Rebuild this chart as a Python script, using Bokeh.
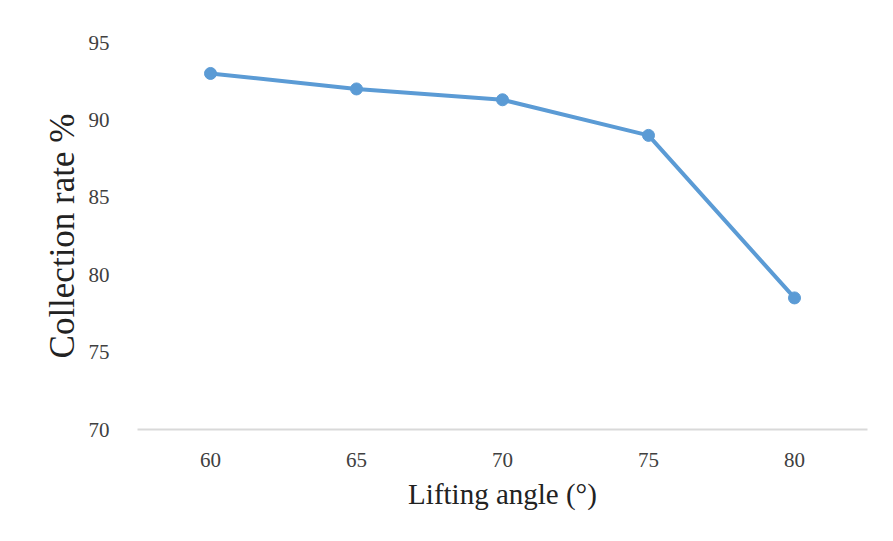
from bokeh.plotting import figure
from bokeh.models import Range1d, FixedTicker
from bokeh.embed import file_html
from bokeh.resources import INLINE

angles = ["60", "65", "70", "75", "80"]
collection_rate = [93.0, 92.0, 91.3, 89.0, 78.5]
y_ticks = [70, 75, 80, 85, 90, 95]

FONT = "Liberation Serif"
BLUE = "#5b9bd5"

p = figure(width=893, height=541, x_range=angles, y_range=Range1d(70, 95),
           output_backend="svg", toolbar_location=None,
           min_border_left=137, min_border_right=26, min_border_top=42, min_border_bottom=112)
p.outline_line_color = None
p.background_fill_color = "white"
p.border_fill_color = "white"
p.xgrid.grid_line_color = None
p.ygrid.grid_line_color = None

p.line(angles, collection_rate, line_color=BLUE, line_width=4)
p.scatter(angles, collection_rate, size=12, fill_color=BLUE, line_color=BLUE)

p.yaxis.ticker = FixedTicker(ticks=y_ticks)
p.yaxis.axis_line_color = None
p.yaxis.major_tick_line_color = None
p.yaxis.minor_tick_line_color = None
p.yaxis.major_label_standoff = 22
p.yaxis.axis_label = "Collection rate %"
p.yaxis.axis_label_text_font = FONT
p.yaxis.axis_label_text_font_style = "normal"
p.yaxis.axis_label_text_font_size = "35px"
p.yaxis.axis_label_text_color = "#222222"
p.yaxis.axis_label_standoff = 4

p.xaxis.axis_line_color = "#d9d9d9"
p.xaxis.axis_line_width = 2
p.xaxis.major_tick_line_color = None
p.xaxis.minor_tick_line_color = None
p.xaxis.major_label_standoff = 17
p.xaxis.axis_label = "Lifting angle (°)"
p.xaxis.axis_label_text_font = FONT
p.xaxis.axis_label_text_font_style = "normal"
p.xaxis.axis_label_text_font_size = "29px"
p.xaxis.axis_label_text_color = "#222222"
p.xaxis.axis_label_standoff = 8

for ax in (p.xaxis, p.yaxis):
    ax.major_label_text_font = FONT
    ax.major_label_text_font_size = "21px"
    ax.major_label_text_color = "#404040"

open("out.html", "w").write(file_html(p, INLINE))
